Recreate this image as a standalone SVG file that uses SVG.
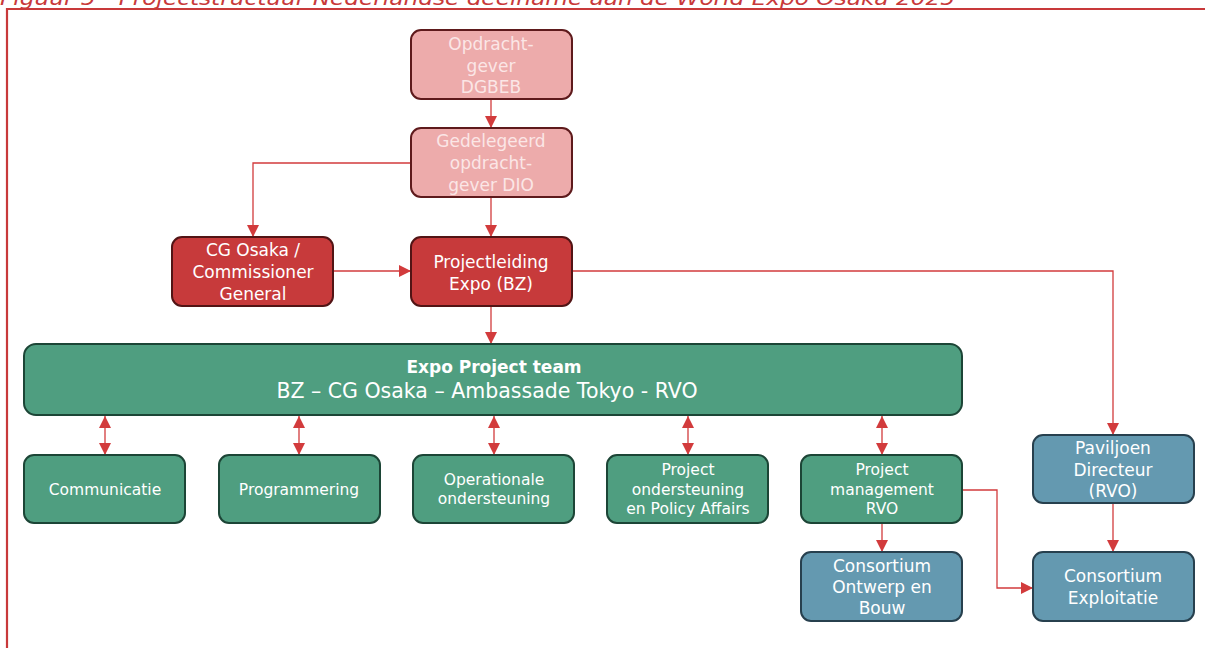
<svg xmlns="http://www.w3.org/2000/svg" width="1205" height="648" viewBox="0 0 1205 648">
<style>
.cap{font-family:"DejaVu Sans","Liberation Sans",sans-serif;font-style:italic;font-size:20px;fill:#c8393a;text-anchor:start}
.pink{fill:#edabab;stroke:#5e1a1c;stroke-width:2}
.red{fill:#c73a3b;stroke:#521415;stroke-width:2}
.green{fill:#4f9e80;stroke:#1c4536;stroke-width:2}
.blue{fill:#6499b0;stroke:#27404e;stroke-width:2}
text{font-family:"DejaVu Sans","Noto Sans","Liberation Sans",sans-serif;text-anchor:middle;fill:#ffffff}
.t17{font-size:17px}
.t15{font-size:15.5px}
.tp{fill:#fbe6e6}
.b{font-weight:bold;font-size:17px}
.c{fill:none;stroke:#d23b3c;stroke-width:1.3}
</style>
<defs>
<marker id="ahs" viewBox="0 0 10 10" refX="10" refY="5" markerWidth="12" markerHeight="12" markerUnits="userSpaceOnUse" orient="auto-start-reverse">
<path d="M0,0 L10,5 L0,10 z" fill="#d23b3c"/>
</marker>
</defs>
<rect x="0" y="0" width="1205" height="648" fill="#ffffff"/>
<text class="cap" x="0" y="5" textLength="955" lengthAdjust="spacingAndGlyphs">Figuur 5 - Projectstructuur Nederlandse deelname aan de World Expo Osaka 2025</text>
<path d="M7,648 L7,9 L1205,9" fill="none" stroke="#c8393a" stroke-width="2.2"/>

<g id="connectors">
<path class="c" d="M491,99 L491,128" marker-end="url(#ahs)"/>
<path class="c" d="M411,163 L253,163 L253,237" marker-end="url(#ahs)"/>
<path class="c" d="M491,197 L491,237" marker-end="url(#ahs)"/>
<path class="c" d="M333,271 L411,271" marker-end="url(#ahs)"/>
<path class="c" d="M572,271 L1113,271 L1113,435" marker-end="url(#ahs)"/>
<path class="c" d="M491,306 L491,344" marker-end="url(#ahs)"/>
<path class="c" d="M105,416 L105,455" marker-start="url(#ahs)" marker-end="url(#ahs)"/>
<path class="c" d="M299,416 L299,455" marker-start="url(#ahs)" marker-end="url(#ahs)"/>
<path class="c" d="M494,416 L494,455" marker-start="url(#ahs)" marker-end="url(#ahs)"/>
<path class="c" d="M688,416 L688,455" marker-start="url(#ahs)" marker-end="url(#ahs)"/>
<path class="c" d="M882,416 L882,455" marker-start="url(#ahs)" marker-end="url(#ahs)"/>
<path class="c" d="M882,523 L882,552" marker-end="url(#ahs)"/>
<path class="c" d="M962,490 L997,490 L997,588 L1033,588" marker-end="url(#ahs)"/>
<path class="c" d="M1113,503 L1113,552" marker-end="url(#ahs)"/>
</g>

<g id="opdrachtgever">
<rect class="pink" x="411" y="30" width="161" height="69" rx="10"/>
<text class="t17 tp" x="491" y="50">Opdracht-</text>
<text class="t17 tp" x="491" y="72">gever</text>
<text class="t17 tp" x="491" y="93">DGBEB</text>
</g>
<g id="gedelegeerd">
<rect class="pink" x="411" y="128" width="161" height="69" rx="10"/>
<text class="t17 tp" x="491" y="147">Gedelegeerd</text>
<text class="t17 tp" x="491" y="169">opdracht-</text>
<text class="t17 tp" x="491" y="191">gever DIO</text>
</g>
<g id="cg-osaka">
<rect class="red" x="172" y="237" width="161" height="69" rx="10"/>
<text class="t17" x="253" y="256">CG Osaka /</text>
<text class="t17" x="253" y="278">Commissioner</text>
<text class="t17" x="253" y="300">General</text>
</g>
<g id="projectleiding">
<rect class="red" x="411" y="237" width="161" height="69" rx="10"/>
<text class="t17" x="491" y="268">Projectleiding</text>
<text class="t17" x="491" y="290">Expo (BZ)</text>
</g>
<g id="project-team">
<rect class="green" x="24" y="344" width="938" height="71" rx="12"/>
<text class="b" x="494" y="373">Expo Project team</text>
<text x="487" y="398" style="font-size:20.5px">BZ – CG Osaka – Ambassade Tokyo - RVO</text>
</g>
<g id="communicatie">
<rect class="green" x="24" y="455" width="161" height="68" rx="10"/>
<text class="t15" x="105" y="495">Communicatie</text>
</g>
<g id="programmering">
<rect class="green" x="219" y="455" width="161" height="68" rx="10"/>
<text class="t15" x="299" y="495">Programmering</text>
</g>
<g id="operationale">
<rect class="green" x="413" y="455" width="161" height="68" rx="10"/>
<text class="t15" x="494" y="485">Operationale</text>
<text class="t15" x="494" y="504">ondersteuning</text>
</g>
<g id="projectondersteuning">
<rect class="green" x="607" y="455" width="161" height="68" rx="10"/>
<text class="t15" x="688" y="475">Project</text>
<text class="t15" x="688" y="495">ondersteuning</text>
<text class="t15" x="688" y="514">en Policy Affairs</text>
</g>
<g id="projectmanagement">
<rect class="green" x="801" y="455" width="161" height="68" rx="10"/>
<text class="t15" x="882" y="475">Project</text>
<text class="t15" x="882" y="495">management</text>
<text class="t15" x="882" y="514">RVO</text>
</g>
<g id="consortium-ontwerp">
<rect class="blue" x="801" y="552" width="161" height="69" rx="10"/>
<text class="t17" x="882" y="572">Consortium</text>
<text class="t17" x="882" y="593">Ontwerp en</text>
<text class="t17" x="882" y="614">Bouw</text>
</g>
<g id="paviljoen">
<rect class="blue" x="1033" y="435" width="161" height="68" rx="10"/>
<text class="t17" x="1113" y="454">Paviljoen</text>
<text class="t17" x="1113" y="476">Directeur</text>
<text class="t17" x="1113" y="497">(RVO)</text>
</g>
<g id="consortium-exploitatie">
<rect class="blue" x="1033" y="552" width="161" height="69" rx="10"/>
<text class="t17" x="1113" y="582">Consortium</text>
<text class="t17" x="1113" y="604">Exploitatie</text>
</g>
</svg>
